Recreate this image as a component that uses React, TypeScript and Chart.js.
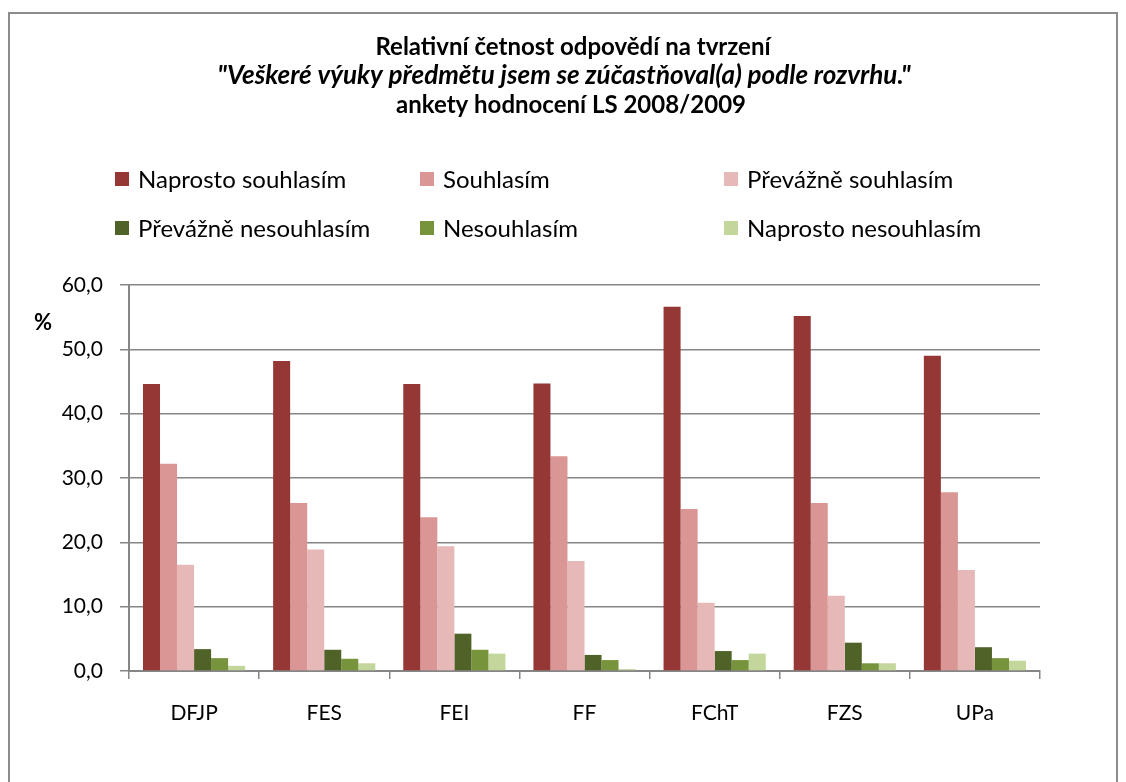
import React, { useEffect, useRef } from "react";
import { Chart, registerables } from "chart.js";

Chart.register(...registerables);

const categories = ["DFJP", "FES", "FEI", "FF", "FChT", "FZS", "UPa"];
const seriesNames = [
  "Naprosto souhlasím",
  "Souhlasím",
  "Převážně souhlasím",
  "Převážně nesouhlasím",
  "Nesouhlasím",
  "Naprosto nesouhlasím",
];
const naprostoSouhlasim = [44.6, 48.2, 44.6, 44.7, 56.6, 55.2, 49.0];
const souhlasim = [32.2, 26.1, 23.9, 33.4, 25.2, 26.1, 27.8];
const prevazneSouhlasim = [16.5, 18.9, 19.4, 17.1, 10.6, 11.7, 15.7];
const prevazneNesouhlasim = [3.4, 3.3, 5.8, 2.5, 3.1, 4.4, 3.7];
const nesouhlasim = [2.0, 1.9, 3.3, 1.7, 1.7, 1.2, 2.0];
const naprostoNesouhlasim = [0.8, 1.2, 2.7, 0.3, 2.7, 1.2, 1.6];
const seriesColors = ["#953735", "#D99694", "#E6B9B8", "#4F6228", "#77933C", "#C3D69B"];
const titleLines = [
  "Relativní četnost odpovědí na tvrzení",
  "\"Veškeré výuky předmětu jsem se zúčastňoval(a) podle rozvrhu.\"",
  "ankety hodnocení LS 2008/2009",
];
const yMin = 0;
const yMax = 60;
const yStep = 10;
const yUnit = "%";

const FONT = "Lato, 'Open Sans', sans-serif";

const decorPlugin = {
  id: "decor",
  beforeDraw(chart: any) {
    const ctx = chart.ctx;
    ctx.save();
    ctx.fillStyle = "#ffffff";
    ctx.fillRect(0, 0, chart.width, chart.height);
    ctx.restore();
  },
  afterDraw(chart: any) {
    const ctx = chart.ctx;
    ctx.save();
    // outer frame
    ctx.strokeStyle = "#8c8c8c";
    ctx.lineWidth = 2;
    ctx.strokeRect(9, 13, 1108, 800);
    // title
    ctx.fillStyle = "#000000";
    ctx.textAlign = "center";
    ctx.textBaseline = "middle";
    ctx.font = `bold 24px ${FONT}`;
    ctx.fillText(titleLines[0], 573, 47);
    ctx.font = `italic bold 26px ${FONT}`;
    ctx.fillText(titleLines[1], 564, 76);
    ctx.font = `bold 24px ${FONT}`;
    ctx.fillText(titleLines[2], 571, 105);
    // legend
    const colX = [115, 420, 724];
    const rowY = [179, 228];
    ctx.textAlign = "left";
    ctx.font = `24px ${FONT}`;
    seriesNames.forEach((name, i) => {
      const x = colX[i % 3];
      const y = rowY[Math.floor(i / 3)];
      ctx.fillStyle = seriesColors[i];
      ctx.fillRect(x, y - 7, 14, 14);
      ctx.fillStyle = "#000000";
      ctx.fillText(name, x + 23, y + 1);
    });
    // unit label
    ctx.font = `bold 22px ${FONT}`;
    ctx.textAlign = "center";
    ctx.fillText(yUnit, 43, 323);
    ctx.restore();
  },
};

export default function App() {
  const canvasRef = useRef<HTMLCanvasElement | null>(null);

  useEffect(() => {
    if (!canvasRef.current) return;
    const data = [
      naprostoSouhlasim,
      souhlasim,
      prevazneSouhlasim,
      prevazneNesouhlasim,
      nesouhlasim,
      naprostoNesouhlasim,
    ];
    const chart = new Chart(canvasRef.current, {
      type: "bar",
      data: {
        labels: categories,
        datasets: seriesNames.map((name, i) => ({
          label: name,
          data: data[i],
          backgroundColor: seriesColors[i],
          borderWidth: 0,
          barPercentage: 1,
          categoryPercentage: 0.785,
        })),
      },
      options: {
        animation: false,
        responsive: false,
        maintainAspectRatio: false,
        layout: { padding: { top: 285, right: 86, bottom: 0, left: 0 } },
        plugins: {
          legend: { display: false },
          title: { display: false },
          tooltip: { enabled: false },
        },
        scales: {
          x: {
            grid: {
              display: true,
              offset: true,
              drawOnChartArea: false,
              drawTicks: true,
              tickLength: 8,
              color: "#868686",
              lineWidth: 1.5,
            },
            border: { display: true, color: "#868686", width: 2 },
            ticks: {
              color: "#000000",
              font: { family: FONT, size: 21 },
              padding: 22,
              maxRotation: 0,
            },
            afterFit: (scale: any) => {
              scale.height = 111;
            },
          },
          y: {
            min: yMin,
            max: yMax,
            ticks: {
              stepSize: yStep,
              color: "#000000",
              font: { family: FONT, size: 21 },
              padding: 17,
              callback: (v: any) => Number(v).toFixed(1).replace(".", ","),
            },
            grid: {
              color: "#868686",
              lineWidth: 1.5,
              tickLength: 9,
              drawTicks: true,
            },
            border: { display: true, color: "#868686", width: 2 },
            afterFit: (scale: any) => {
              scale.width = 129;
            },
          },
        },
      },
      plugins: [decorPlugin],
    });
    return () => chart.destroy();
  }, []);

  return (
    <div style={{ position: "fixed", left: 0, top: 0, width: 1126, height: 782 }}>
      <canvas ref={canvasRef} width={1126} height={782} style={{ width: 1126, height: 782, display: "block" }} />
    </div>
  );
}
